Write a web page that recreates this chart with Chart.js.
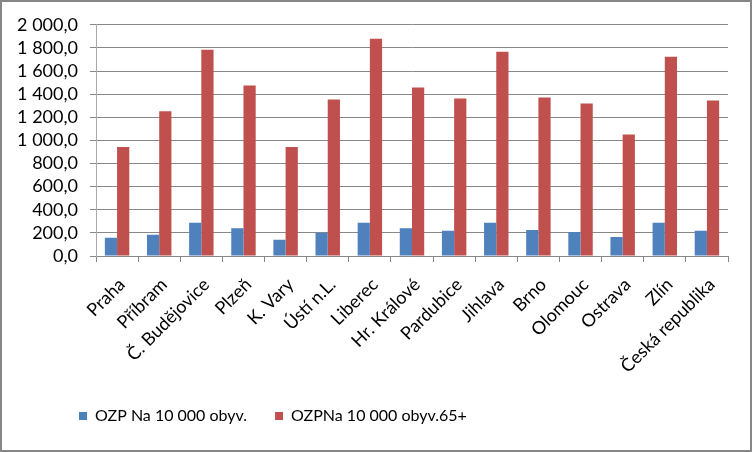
<!DOCTYPE html>
<html>
<head>
<meta charset="utf-8">
<script src="https://cdn.jsdelivr.net/npm/chart.js@4/dist/chart.umd.min.js"></script>
<style>
  html, body { margin: 0; padding: 0; background: #fff; }
  #wrap { position: absolute; left: 0; top: 0; width: 748px; height: 448px; border: 2px solid #878787; background: #fff; }
  canvas { display: block; }
</style>
</head>
<body>
<div id="wrap"><canvas id="c" width="748" height="448"></canvas></div>
<script>
const categories = ["Praha", "Příbram", "Č. Budějovice", "Plzeň", "K. Vary", "Ústí n.L.", "Liberec", "Hr. Králové", "Pardubice", "Jihlava", "Brno", "Olomouc", "Ostrava", "Zlín", "Česká republika"];
const seriesNames = ["OZP Na 10 000 obyv.", "OZPNa 10 000 obyv.65+"];
const ozpPer10k = [158, 184, 287, 241, 141, 201, 287, 241, 218, 287, 224, 207, 164, 287, 218];
const ozpPer10k65 = [942, 1253, 1784, 1474, 942, 1353, 1879, 1457, 1362, 1767, 1371, 1319, 1052, 1724, 1345];
const yTicks = [0, 200, 400, 600, 800, 1000, 1200, 1400, 1600, 1800, 2000];

const FONT = "Lato, 'Open Sans', sans-serif";

function fmt(v) {
  const s = Math.abs(v).toFixed(1).split(".");
  const int = s[0].replace(/\B(?=(\d{3})+(?!\d))/g, " ");
  return int + "," + s[1];
}

const legendShift = {
  id: "legendShift",
  afterLayout(chart) {
    if (chart.legend) { chart.legend.left = 49; }
  }
};

new Chart(document.getElementById("c"), {
  type: "bar",
  data: {
    labels: categories,
    datasets: [
      { label: seriesNames[0], data: ozpPer10k, backgroundColor: "#4F81BD", categoryPercentage: 0.58, barPercentage: 1.0 },
      { label: seriesNames[1], data: ozpPer10k65, backgroundColor: "#C0504D", categoryPercentage: 0.58, barPercentage: 1.0 }
    ]
  },
  plugins: [legendShift],
  options: {
    responsive: false,
    animation: false,
    layout: { padding: { left: 0, right: 22, top: 22, bottom: 16 } },
    plugins: {
      legend: {
        position: "bottom",
        align: "start",
        labels: { boxWidth: 8, boxHeight: 8, padding: 28, color: "#000", font: { family: FONT, size: 16 } }
      },
      tooltip: { enabled: false }
    },
    scales: {
      x: {
        offset: true,
        grid: { offset: true, drawOnChartArea: false, drawTicks: true, tickLength: 6, color: "#888" },
        border: { color: "#888" },
        ticks: { minRotation: 45, maxRotation: 45, autoSkip: false, color: "#000", padding: 12, labelOffset: 5, font: { family: FONT, size: 18 } },
        afterFit: (s) => { s.height = 124; }
      },
      y: {
        min: 0, max: 2000,
        afterBuildTicks: (s) => { s.ticks = yTicks.map(v => ({ value: v })); },
        grid: { color: "#888", tickLength: 6 },
        border: { color: "#aaa" },
        ticks: { autoSkip: false, color: "#000", padding: 12, font: { family: FONT, size: 18 }, callback: (v) => fmt(v) },
        afterFit: (s) => { s.width = 94; }
      }
    }
  }
});
</script>
</body>
</html>
